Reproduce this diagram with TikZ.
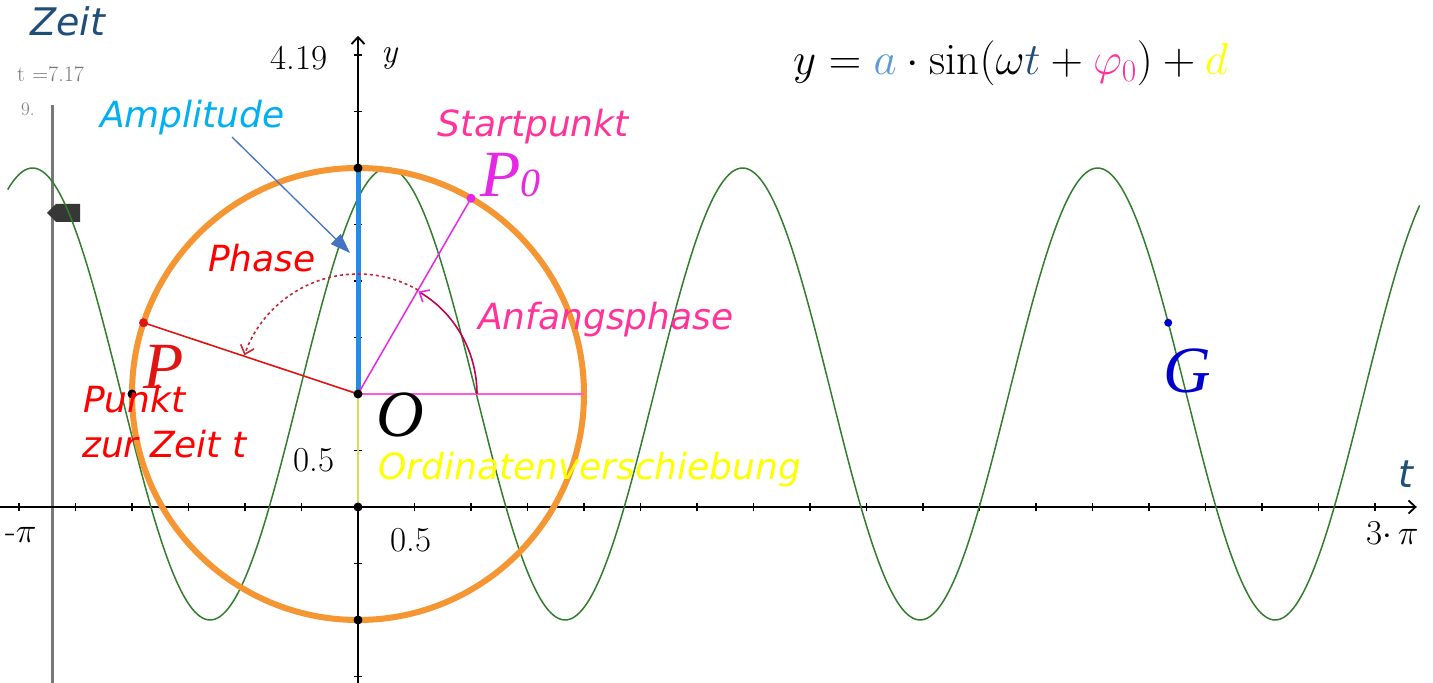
\RequirePackage{fix-cm}
\documentclass[tikz,border=0pt]{standalone}
\usepackage{fontspec}
\usetikzlibrary{arrows.meta}
\newfontfamily\lbl{DejaVu Sans}
\newfontfamily\geofont{Liberation Serif}
\definecolor{zeitblue}{RGB}{31,78,121}
\definecolor{ampblue}{RGB}{35,140,230}
\definecolor{amptext}{RGB}{0,176,240}
\definecolor{arrowblue}{RGB}{68,114,196}
\definecolor{curvegreen}{RGB}{50,125,45}
\definecolor{circorange}{RGB}{245,150,50}
\definecolor{pred}{RGB}{225,20,20}
\definecolor{redtext}{RGB}{255,0,0}
\definecolor{phasered}{RGB}{195,40,55}
\definecolor{anfred}{RGB}{200,0,80}
\definecolor{mag}{RGB}{230,40,230}
\definecolor{maglight}{RGB}{255,90,220}
\definecolor{pinktext}{RGB}{255,51,153}
\definecolor{yellowline}{RGB}{215,220,90}
\definecolor{ordyellow}{RGB}{255,255,0}
\definecolor{slidergray}{RGB}{120,120,120}
\definecolor{knob}{RGB}{55,55,55}
\definecolor{gblue}{RGB}{0,0,205}
\definecolor{fa}{RGB}{91,155,213}
\tikzset{
  lab/.style={anchor=base west, inner sep=0pt},
  callout/.style={lab, font=\lbl\itshape\fontsize{36}{40}\selectfont},
  geo/.style={lab, font=\geofont\itshape\fontsize{66}{72}\selectfont},
  num/.style={lab, font=\fontsize{35}{40}\selectfont},
  tick/.style={black, line width=1.6pt},
  axisline/.style={black, line width=1.8pt, -{Straight Barb[length=7pt,width=13pt,line width=1.8pt]}},
  dot/.style={radius=4.5pt}
}
\begin{document}
\begin{tikzpicture}[x=1pt,y=1pt]
\useasboundingbox (0,0) rectangle (1433,683);
\fill[white] (0,0) rectangle (1433,683);
% slider
\coordinate (slidetop) at (52,578);
\coordinate (slidebot) at (52,0);
\draw[slidergray, line width=3pt] (slidebot) -- (slidetop);
\fill[knob] (47,470) -- (56,479) -- (80,479) -- (80,461) -- (56,461) -- cycle;
\node[lab, text=slidergray, font=\fontsize{22}{26}\selectfont] (tval) at (17,601) {t\,\,=7.17};
\node[lab, text=slidergray, font=\fontsize{19}{22}\selectfont] (nine) at (21,567) {9.};
\node[callout, text=zeitblue, font=\lbl\itshape\fontsize{38}{42}\selectfont] (zeit) at (30,647) {Zeit};
\begin{scope}[shift={(358pt,176pt)}, x=113pt, y=113pt]
  \coordinate (orig) at (0,0);
  \coordinate (O) at (0,1);
  \coordinate (top) at (0,3);
  \coordinate (bot) at (0,-1);
  \coordinate (lft) at (-2,1);
  \coordinate (rgt) at (2,1);
  \coordinate (P0) at (1,2.7321);
  \coordinate (P) at (-1.898,1.6306);
  \coordinate (G) at (7.17,1.6306);
  \coordinate (ytop) at (0,4.17);
  \coordinate (ybot) at (0,-1.6);
  \coordinate (xl) at (-3.2,0);
  \coordinate (xr) at (9.37,0);
  % ticks
  \foreach \k in {-3,-2.5,...,9.1} \draw[tick] (\k,-0.038) -- (\k,0.038);
  \foreach \k in {-1.5,-1,...,4.1} \draw[tick] (-0.038,\k) -- (0.038,\k);
  % axes
  \draw[axisline] (xl) -- (xr);
  \draw[axisline] (ybot) -- (ytop);
  % curve
  \draw[curvegreen, line width=1.5pt] plot[domain=-3.1:9.4, samples=500, smooth] (\x,{2*sin(deg(2*\x)+60)+1});
  % circle
  \draw[circorange, line width=6pt] (O) circle[radius=226pt];
  % segments
  \draw[yellowline, line width=2pt] (O) -- (orig);
  \draw[ampblue, line width=5pt] (top) -- (O);
  \draw[maglight, line width=1.8pt] (O) -- (rgt);
  \draw[mag, line width=1.5pt] (O) -- (P0);
  \draw[pred, line width=1.6pt] (O) -- (P);
  % angle arcs
  \draw[phasered, line width=1.6pt, dashed, -{Straight Barb[length=8pt,width=14pt,line width=1.6pt]}]
     ([shift={(60:120pt)}]O) arc[start angle=60, end angle=161.2, radius=120pt];
  \draw[anfred, line width=1.6pt, -{Straight Barb[length=8pt,width=14pt,line width=1.6pt,color=mag]}]
     ([shift={(0:119pt)}]O) arc[start angle=0, end angle=59.5, radius=119pt];
  % dots
  \fill[black] (top) circle[dot];
  \fill[black] (O) circle[dot];
  \fill[black] (orig) circle[dot];
  \fill[black] (bot) circle[dot];
  \fill[black] (lft) circle[dot];
  \fill[mag] (P0) circle[dot];
  \fill[pred] (P) circle[dot];
  \fill[gblue] (G) circle[radius=4pt];
\end{scope}
% amplitude arrow
\coordinate (ampstart) at (232,546);
\coordinate (amptip) at (350,430);
\draw[arrowblue, line width=1.3pt, -{Triangle[length=20pt,width=14pt]}] (ampstart) -- (amptip);
% labels
\node[num] (ymax) at (270,613) {4.19};
\node[lab, font=\itshape\fontsize{34}{38}\selectfont] (ylab) at (381,620) {y};
\node[lab, font=\fontsize{45}{50}\selectfont] (formula) at (793,608)
  {$y = \textcolor{fa}{a}\cdot\sin(\omega \textcolor{zeitblue}{t} + \textcolor{pinktext}{\varphi_0}) + \textcolor{ordyellow}{d}$};
\node[callout, text=amptext] (ampl) at (100,555) {Amplitude};
\node[callout, text=pinktext] (start) at (437,546) {Startpunkt};
\node[geo, text=mag] (P0lab) at (480,486) {P\fontsize{40}{44}\selectfont 0};
\node[callout, text=redtext] (phase) at (208,411) {Phase};
\node[callout, text=pinktext] (anf) at (478,353) {Anfangsphase};
\node[geo, text=pred] (Plab) at (143,294) {P};
\node[callout, text=redtext] (punkt) at (83,270) {Punkt};
\node[callout, text=redtext] (zur) at (82,225) {zur Zeit t};
\node[geo, text=black] (Olab) at (376,246) {O};
\node[num] (y05) at (293,211) {0.5};
\node[callout, text=ordyellow] (ordin) at (378,203) {Ordinatenverschiebung};
\node[callout, text=zeitblue, font=\lbl\itshape\fontsize{38}{42}\selectfont] (tlab) at (1398,195) {t};
\node[num] (mpi) at (5,140) {-$\pi$};
\node[num] (x05) at (390,131) {0.5};
\node[num] (threepi) at (1366,138) {3$\cdot$\,$\pi$};
\node[geo, text=gblue] (Glab) at (1163,290) {G};
\end{tikzpicture}
\end{document}
